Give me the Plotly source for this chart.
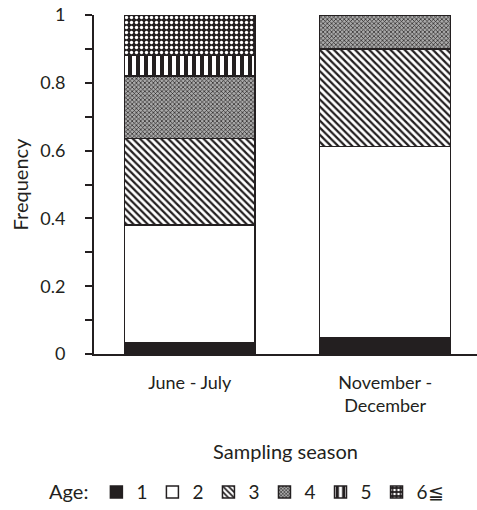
import plotly.graph_objects as go

seasons = ["June - July", "November -<br>December"]
age_labels = ["1", "2", "3", "4", "5", "6≦"]
age1 = [0.033, 0.047]
age2 = [0.347, 0.565]
age3 = [0.256, 0.288]
age4 = [0.184, 0.100]
age5 = [0.060, 0.0]
age6 = [0.120, 0.0]
series = [age1, age2, age3, age4, age5, age6]

INK = "#231f20"
patterns = [
    dict(shape="", fillmode="overlay"),
    dict(shape="", fillmode="overlay"),
    dict(shape="\\", fgcolor=INK, bgcolor="white", size=5, solidity=0.45, fillmode="replace"),
    dict(shape="x", fgcolor=INK, bgcolor="#aaaaaa", size=3, solidity=0.4, fillmode="replace"),
    dict(shape="|", fgcolor=INK, bgcolor="white", size=8, solidity=0.5, fillmode="replace"),
    dict(shape=".", fgcolor="white", bgcolor=INK, size=5, solidity=0.35, fillmode="replace"),
]
colors = [INK, "white", "white", "white", "white", INK]

fig = go.Figure()
for lab, vals, pat, col in zip(age_labels, series, patterns, colors):
    fig.add_trace(go.Bar(
        x=seasons, y=vals, name=lab,
        marker=dict(color=col, pattern=pat, line=dict(color=INK, width=1.5)),
        width=0.67,
    ))

FONT = "Lato"
fig.update_layout(
    barmode="stack",
    width=477, height=510,
    margin=dict(l=94, r=0, t=15, b=156, autoexpand=False),
    plot_bgcolor="white", paper_bgcolor="white",
    font=dict(family=FONT, size=18, color=INK),
    showlegend=True,
    legend=dict(
        orientation="h", x=0.52, xref="container", xanchor="center",
        y=0.035, yref="container", yanchor="middle",
        title=dict(text="Age:", font=dict(size=20)),
        font=dict(size=19), itemwidth=30, traceorder="normal",
    ),
    xaxis=dict(
        range=[-0.49, 1.47], showline=True, linecolor=INK, linewidth=2,
        ticks="", showgrid=False, zeroline=False, ticklabelstandoff=11,
        title=dict(text="Sampling season", font=dict(size=20), standoff=30),
    ),
    yaxis=dict(
        range=[0, 1], showline=True, linecolor=INK, linewidth=2,
        ticks="outside", ticklen=7, tickwidth=1.5, tickcolor=INK,
        ticklabelstandoff=16,
        tickvals=[0, 0.2, 0.4, 0.6, 0.8, 1], ticktext=["0", "0.2", "0.4", "0.6", "0.8", "1"],
        minor=dict(tickvals=[0.1, 0.3, 0.5, 0.7, 0.9], ticks="outside", ticklen=7, tickwidth=1.5, tickcolor=INK),
        showgrid=False, zeroline=False,
        title=dict(text="Frequency", font=dict(size=20), standoff=6),
    ),
)
fig.write_html("out.html", config={"displayModeBar": False},
               post_script="document.body.style.margin='0';document.body.style.overflow='hidden';")
